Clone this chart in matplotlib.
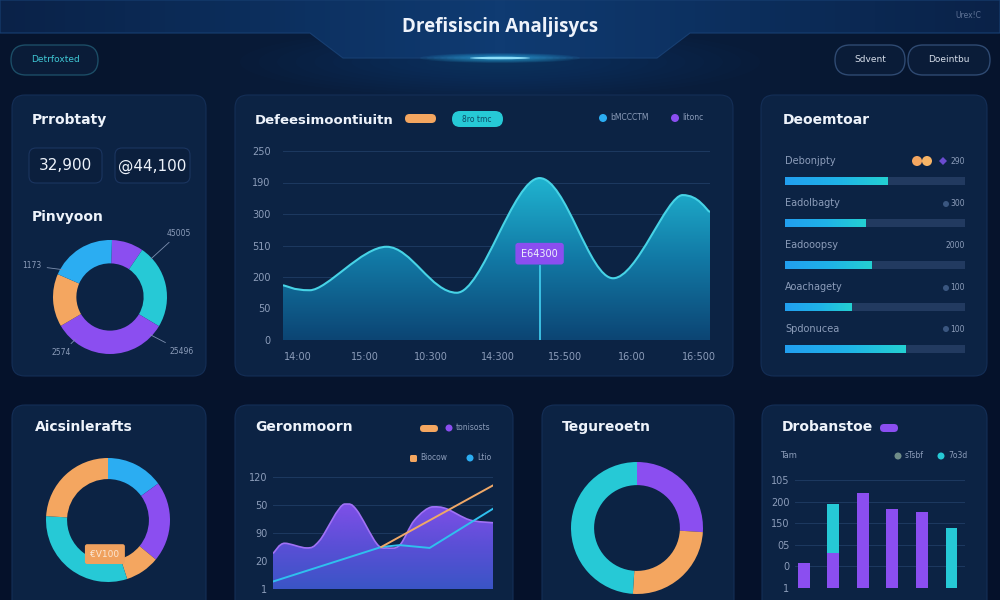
import numpy as np
import matplotlib
matplotlib.use("Agg")
import matplotlib.pyplot as plt
from matplotlib.patches import FancyBboxPatch, Polygon, Ellipse, PathPatch, Circle, RegularPolygon
from matplotlib.path import Path
from matplotlib.colors import LinearSegmentedColormap

# ---------------- data ----------------
title = "Drefisiscin Analjisycs"
kpi_values = ["32,900", "@44,100"]

donut_a_values = [9, 24, 33, 15, 19]
donut_a_labels = ["45005", "25496", "2574", "1173"]

line_x = [-0.22, 0.18, 1.33, 2.38, 3.62, 4.72, 5.76, 6.17]
line_y = [87, 79, 148, 75, 257, 98, 230, 203]
line_yticks = [0, 50, 100, 150, 200, 250, 300]
line_ytick_labels = ["0", "50", "200", "510", "300", "190", "250"]
line_xtick_labels = ["14:00", "15:00", "10:300", "14:300", "15:500", "16:00", "16:500"]
tooltip_x = 3.62
tooltip_label = "E64300"

bar_labels = ["Debonjpty", "Eadolbagty", "Eadooopsy", "Aoachagety", "Spdonucea"]
bar_values = [57, 45, 48, 37, 67]
bar_right = ["290", "300", "2000", "100", "100"]

donut_d_values = [15, 21, 9, 31, 24]
donut_d_tip = "\u20acV100"

area_x = [0, 0.53, 1.52, 2.12, 3.26, 3.79, 4.7, 5.15, 5.76, 6.44, 7.27, 7.88, 8.94, 10]
area_y = [38, 49, 44, 52, 91, 85, 49, 44, 47, 74, 88, 86, 74, 71]
blue_x = [0, 4.92, 5.76, 7.12, 10]
blue_y = [8, 45, 47, 44, 86]
orange_x = [4.92, 10]
orange_y = [45, 111]
area_yticks = [0, 30, 60, 90, 120]
area_ytick_labels = ["1", "20", "90", "50", "120"]

donut_f_values = [26, 25, 49]

col_purple = [58, 81, 220, 183, 176, 0]
col_teal = [0, 113, 0, 0, 0, 139]
col_yticks = [0, 50, 100, 150, 200, 250]
col_ytick_labels = ["1", "0", "05", "150", "200", "105"]

# ---------------- style ----------------
BG = "#07152d"
PANEL = "#0c2344"
PANEL_EDGE = "#142e56"
WHITE = "#eef3fb"
GREY = "#8c9dba"
PURPLE = "#8b4ef0"
TEAL = "#26c9d6"
ORANGE = "#f4a660"
BLUE = "#2badf2"
FONT = "DejaVu Sans"
plt.rcParams["font.family"] = [FONT]

W, H = 1000, 600
fig = plt.figure(figsize=(10, 6), dpi=100, facecolor=BG)

bg = fig.add_axes([0, 0, 1, 1], zorder=0)
bg.set_xlim(0, W)
bg.set_ylim(H, 0)
bg.axis("off")

# background gradient
yy, xx = np.mgrid[0:60, 0:100]
rad = np.sqrt(((xx - 50) / 60.0) ** 2 + ((yy - 6) / 40.0) ** 2)
bgcmap = LinearSegmentedColormap.from_list("bg", ["#0b2448", "#07162f", "#05112a"])
bg.imshow(np.clip(rad, 0, 1.3), extent=[0, W, H, 0], cmap=bgcmap, aspect="auto", zorder=0)


def px_axes(x0, y0, x1, y1, z=3):
    a = fig.add_axes([x0 / W, 1 - y1 / H, (x1 - x0) / W, (y1 - y0) / H], zorder=z)
    a.set_facecolor("none")
    return a


def panel(x0, y0, x1, y1):
    bg.add_patch(FancyBboxPatch((x0, y0), x1 - x0, y1 - y0,
                                boxstyle="round,pad=0,rounding_size=13",
                                fc=PANEL, ec=PANEL_EDGE, lw=0.8, zorder=2))


def pill(x0, y0, x1, y1, color, ec="none", lw=0, r=None, z=4):
    rr = (y1 - y0) / 2 if r is None else r
    bg.add_patch(FancyBboxPatch((x0, y0), x1 - x0, y1 - y0,
                                boxstyle="round,pad=0,rounding_size=%f" % rr,
                                fc=color, ec=ec, lw=lw, zorder=z))


def smooth_path(xs, ys):
    pts = np.column_stack([xs, ys]).astype(float)
    n = len(pts)
    tang = []
    for i in range(n):
        p0 = pts[max(i - 1, 0)]
        p2 = pts[min(i + 1, n - 1)]
        t = (p2 - p0) / 2.0
        if 0 < i < n - 1:
            if (pts[i, 1] - pts[i - 1, 1]) * (pts[i + 1, 1] - pts[i, 1]) <= 0:
                t[1] = 0.0
        tang.append(t)
    verts = [pts[0]]
    codes = [Path.MOVETO]
    for i in range(n - 1):
        c1 = pts[i] + tang[i] / 3.0
        c2 = pts[i + 1] - tang[i + 1] / 3.0
        verts += [c1, c2, pts[i + 1]]
        codes += [Path.CURVE4] * 3
    return verts, codes


def gradient_area(ax, xs, ys, colors, top, line_color, lw=1.5):
    verts, codes = smooth_path(xs, ys)
    fv = verts + [(xs[-1], 0), (xs[0], 0), (xs[0], 0)]
    fc = codes + [Path.LINETO, Path.LINETO, Path.CLOSEPOLY]
    patch = PathPatch(Path(fv, fc), transform=ax.transData, fc="none", ec="none")
    ax.add_patch(patch)
    cmap = LinearSegmentedColormap.from_list("g", colors)
    grad = np.linspace(0, 1, 200).reshape(-1, 1)
    im = ax.imshow(grad, extent=[xs[0], xs[-1], 0, top], origin="lower",
                   aspect="auto", cmap=cmap, zorder=1)
    im.set_clip_path(patch)
    ax.add_patch(PathPatch(Path(verts, codes), fc="none", ec=line_color, lw=lw, zorder=3))


def style_axes(ax):
    for s in ax.spines.values():
        s.set_visible(False)
    ax.tick_params(length=0, colors=GREY, labelsize=7)
    ax.yaxis.grid(True, color="#1d3960", lw=0.7)
    ax.set_axisbelow(True)


# ---------------- header ----------------
hdr = Polygon([(0, 0), (W, 0), (W, 33), (690, 33), (657, 58), (343, 58), (310, 33), (0, 33)],
              closed=True, fc="none", ec="#173f72", lw=0.8, zorder=1.2)
bg.add_patch(hdr)
hgrad = np.abs(np.linspace(-1, 1, 200)).reshape(1, -1)
hcmap = LinearSegmentedColormap.from_list("h", ["#0f3b72", "#0c2e5c", "#0a2248"])
him = bg.imshow(hgrad, extent=[0, W, 58, 0], cmap=hcmap, aspect="auto", zorder=1.1)
him.set_clip_path(hdr)
# soft glow under header
for k in range(14):
    f = 1 - k / 14.0
    bg.add_patch(Ellipse((500, 62), 520 * f, 70 * f, fc="#1a5fa8", ec="none", alpha=0.025, zorder=1.05))
for k in range(12):
    f = 1 - k / 12.0
    bg.add_patch(Ellipse((500, 58), 160 * f, 10 * f, fc="#38c8ff", ec="none", alpha=0.07, zorder=1.5))
bg.add_patch(Ellipse((500, 58), 60, 2.5, fc="#9be8ff", ec="none", alpha=0.9, zorder=1.6))
bg.text(500, 27, title, ha="center", va="center", fontsize=13.5, fontweight="bold",
        color=WHITE, zorder=5, family=["Open Sans", "DejaVu Sans"])
bg.text(968, 15, "Urex!C", ha="center", va="center", fontsize=5.5, color="#5f7396", zorder=5)

pill(11, 45, 98, 75, "#0a1c38", ec="#1c4d66", lw=1.0, z=4)
bg.text(55, 60, "Detrfoxted", ha="center", va="center", fontsize=6.5, color="#3fc7d4", zorder=5)
pill(835, 45, 905, 75, "#0a1c38", ec="#2f4a72", lw=1.0, z=4)
bg.text(870, 60, "Sdvent", ha="center", va="center", fontsize=6.5, color="#d6deea", zorder=5)
pill(908, 45, 990, 75, "#0a1c38", ec="#2f4a72", lw=1.0, z=4)
bg.text(949, 60, "Doeintbu", ha="center", va="center", fontsize=6.5, color="#d6deea", zorder=5)

# ---------------- panels ----------------
panel(12, 95, 206, 376)
panel(235, 95, 733, 376)
panel(761, 95, 987, 376)
panel(12, 405, 206, 620)
panel(235, 405, 513, 620)
panel(542, 405, 734, 620)
panel(762, 405, 987, 620)

TITLE_KW = dict(ha="left", va="center", fontsize=10, fontweight="bold", color=WHITE, zorder=5)

# ----- panel A -----
bg.text(32, 120, "Prrobtaty", **TITLE_KW)
for (x0, x1), val in zip([(29, 102), (115, 190)], kpi_values):
    pill(x0, 148, x1, 183, "#0b1f3d", ec="#1b3560", lw=0.8, r=7, z=4)
    bg.text((x0 + x1) / 2, 166, val, ha="center", va="center", fontsize=11, color=WHITE, zorder=5)
bg.text(32, 217, "Pinvyoon", **TITLE_KW)

R = 57
axA = px_axes(110 - R, 297 - R, 110 + R, 297 + R)
axA.pie(donut_a_values, colors=[PURPLE, TEAL, PURPLE, ORANGE, BLUE], startangle=88,
        counterclock=False, radius=1, wedgeprops=dict(width=0.41, edgecolor="none"))
axA.set_xlim(-1, 1)
axA.set_ylim(-1, 1)
lbl_pos = [(43, (1.0, 1.12), "left"), (-44, (1.05, -0.95), "left"),
           (-129, (-0.85, -0.98), "center"), (149, (-1.2, 0.55), "right")]
for (ang, xyt, ha), txt in zip(lbl_pos, donut_a_labels):
    a = np.deg2rad(ang)
    axA.annotate(txt, xy=(0.92 * np.cos(a), 0.92 * np.sin(a)), xytext=xyt,
                 ha=ha, va="center", fontsize=5.5, color=GREY,
                 arrowprops=dict(arrowstyle="-", color="#7d90b0", lw=0.6),
                 annotation_clip=False)

# ----- panel B -----
bg.text(255, 120, "Defeesimoontiuitn", ha="left", va="center", fontsize=9.5,
        fontweight="bold", color=WHITE, zorder=5)
pill(405, 114, 436, 123, ORANGE)
pill(452, 111, 503, 127, TEAL)
bg.text(477, 119, "8ro tmc", ha="center", va="center", fontsize=5.5, color="#0e4a66", zorder=5)
bg.add_patch(Circle((603, 118), 4, fc=BLUE, ec="none", zorder=5))
bg.text(610, 118, "bMCCCTM", ha="left", va="center", fontsize=5.5, color=GREY, zorder=5)
bg.add_patch(Circle((675, 118), 4, fc=PURPLE, ec="none", zorder=5))
bg.text(682, 118, "litonc", ha="left", va="center", fontsize=5.5, color=GREY, zorder=5)

axB = px_axes(283, 151, 710, 340)
style_axes(axB)
gradient_area(axB, line_x, line_y, ["#0c4574", "#127aa6", "#20b6d2"], 262, "#47d3e6")
axB.plot([tooltip_x, tooltip_x], [0, 118], color="#3fc8ea", lw=1.3, zorder=4)
axB.text(tooltip_x, 137, tooltip_label, ha="center", va="center", fontsize=7, color=WHITE, zorder=6,
         bbox=dict(boxstyle="round,pad=0.6,rounding_size=0.3", fc=PURPLE, ec="none"))
axB.set_xlim(line_x[0], line_x[-1])
axB.set_ylim(0, 300)
axB.set_yticks(line_yticks)
axB.set_yticklabels(line_ytick_labels)
axB.set_xticks(range(len(line_xtick_labels)))
axB.set_xticklabels(line_xtick_labels)
axB.tick_params(axis="y", pad=9)
axB.tick_params(axis="x", pad=9)

# ----- panel C -----
bg.text(783, 120, "Deoemtoar", **TITLE_KW)
axC = px_axes(785, 160, 965, 370)
axC.axis("off")
rows = np.arange(len(bar_values))
axC.barh(rows, [100] * len(rows), height=0.19, color="#223a60", zorder=1)
bars = axC.barh(rows, bar_values, height=0.19, color="none", zorder=2)
bcmap = LinearSegmentedColormap.from_list("b", ["#229ff0", "#1fb2e8", "#24d0d2"])
for b in bars:
    im = axC.imshow(np.linspace(0, 1, 100).reshape(1, -1),
                    extent=[0, b.get_width(), b.get_y() + b.get_height(), b.get_y()],
                    aspect="auto", cmap=bcmap, zorder=2)
    im.set_clip_path(b)
axC.set_xlim(0, 100)
axC.set_ylim(4.5, -0.5)
for i, (lab, rv) in enumerate(zip(bar_labels, bar_right)):
    axC.text(0, i - 0.47, lab, ha="left", va="center", fontsize=7, color=GREY)
    axC.text(100, i - 0.47, rv, ha="right", va="center", fontsize=5.5, color=GREY)
bg.add_patch(Circle((917, 161), 5, fc=ORANGE, ec="none", zorder=5))
bg.add_patch(Circle((927, 161), 5, fc="#f7b466", ec="none", zorder=5))
bg.add_patch(RegularPolygon((943, 161), 4, radius=4, fc="#6a4bd0", ec="none", zorder=5))
for yy_ in (204, 288, 329):
    bg.add_patch(Circle((946, yy_), 3, fc="#3a5680", ec="none", zorder=5))

# ----- panel D -----
bg.text(35, 427, "Aicsinlerafts", **TITLE_KW)
R = 62
axD = px_axes(108 - R, 520 - R, 108 + R, 520 + R)
axD.pie(donut_d_values, colors=[BLUE, PURPLE, ORANGE, TEAL, ORANGE], startangle=90,
        counterclock=False, radius=1, wedgeprops=dict(width=0.34, edgecolor="none"))
axD.set_xlim(-1, 1)
axD.set_ylim(-1, 1)
axD.text(-0.05, -0.55, donut_d_tip, ha="center", va="center", fontsize=6.5, color="#fbe6d2", zorder=6,
         bbox=dict(boxstyle="round,pad=0.6,rounding_size=0.25", fc="#f0a15e", ec="none"))

# ----- panel E -----
bg.text(255, 427, "Geronmoorn", **TITLE_KW)
pill(420, 425, 438, 432, ORANGE)
bg.add_patch(Circle((449, 428), 3.5, fc=PURPLE, ec="none", zorder=5))
bg.text(456, 428, "tonisosts", ha="left", va="center", fontsize=5.5, color=GREY, zorder=5)
pill(410, 455, 417, 462, ORANGE, r=1.5)
bg.text(420, 458, "Biocow", ha="left", va="center", fontsize=5.5, color=GREY, zorder=5)
bg.add_patch(Circle((470, 458), 3.5, fc=BLUE, ec="none", zorder=5))
bg.text(477, 458, "Ltio", ha="left", va="center", fontsize=5.5, color=GREY, zorder=5)

axE = px_axes(273, 477, 493, 589)
style_axes(axE)
gradient_area(axE, area_x, area_y, ["#3a55c6", "#5a4fd6", "#7f4fe8"], 92, "#a071f6", lw=1.2)
axE.plot(blue_x, blue_y, color="#2fc0ee", lw=1.4, zorder=4)
axE.plot(orange_x, orange_y, color="#f0a867", lw=1.4, zorder=4)
axE.set_xlim(0, 10)
axE.set_ylim(0, 120)
axE.set_yticks(area_yticks)
axE.set_yticklabels(area_ytick_labels)
axE.set_xticks([])
axE.tick_params(axis="y", pad=4)

# ----- panel F -----
bg.text(562, 427, "Tegureoetn", **TITLE_KW)
R = 66
axF = px_axes(637 - R, 528 - R, 637 + R, 528 + R)
axF.pie(donut_f_values, colors=[PURPLE, ORANGE, TEAL], startangle=90,
        counterclock=False, radius=1, wedgeprops=dict(width=0.35, edgecolor="none"))
axF.set_xlim(-1, 1)
axF.set_ylim(-1, 1)

# ----- panel G -----
bg.text(782, 427, "Drobanstoe", **TITLE_KW)
pill(880, 424, 898, 432, PURPLE)
bg.text(780, 456, "Tam", ha="left", va="center", fontsize=6, color=GREY, zorder=5)
bg.add_patch(Circle((898, 456), 3.5, fc="#6f8c88", ec="none", zorder=5))
bg.text(905, 456, "sTsbf", ha="left", va="center", fontsize=5.5, color=GREY, zorder=5)
bg.add_patch(Circle((941, 456), 3.5, fc=TEAL, ec="none", zorder=5))
bg.text(948, 456, "7o3d", ha="left", va="center", fontsize=5.5, color=GREY, zorder=5)

axG = px_axes(795, 480, 965, 588)
style_axes(axG)
xs = np.arange(len(col_purple))
axG.bar(xs, col_purple, width=0.4, color=PURPLE, zorder=3)
axG.bar(xs, col_teal, width=0.4, bottom=col_purple, color=TEAL, zorder=3)
axG.set_xlim(-0.3, 5.46)
axG.set_ylim(0, 250)
axG.set_yticks(col_yticks)
axG.set_yticklabels(col_ytick_labels)
axG.set_xticks([])
axG.tick_params(axis="y", pad=4)

fig.savefig("out.png", dpi=100, facecolor=BG)
